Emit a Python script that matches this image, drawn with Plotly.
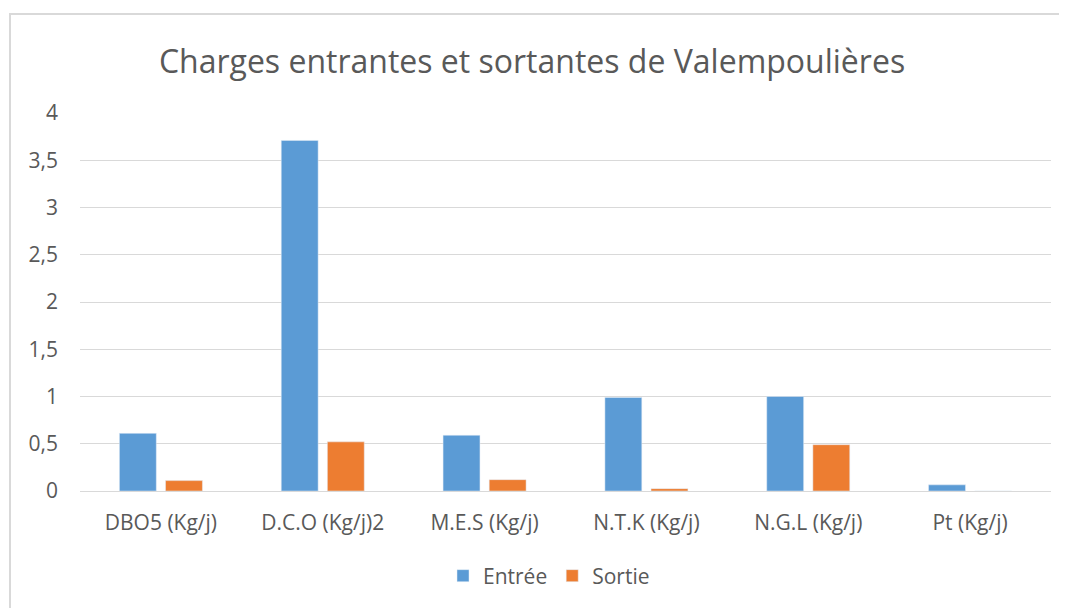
import plotly.graph_objects as go

categories = ["DBO5 (Kg/j)", "D.C.O (Kg/j)2", "M.E.S (Kg/j)", "N.T.K (Kg/j)", "N.G.L (Kg/j)", "Pt (Kg/j)"]
entree = [0.61, 3.71, 0.59, 0.99, 1.00, 0.065]
sortie = [0.11, 0.52, 0.12, 0.025, 0.49, 0.0]
y_ticks = [0, 0.5, 1, 1.5, 2, 2.5, 3, 3.5, 4]

OFF = 8  # page body margin
W, H = 1067 - OFF, 608 - OFF
L, R, T, B = 80 - OFF, 1067 - 1051, 113 - OFF, 608 - 491
pw, ph = W - L - R, H - T - B

def px(x):
    return (x - OFF - L) / pw

def py(y):
    return (H - B - (y - OFF)) / ph

font = "Open Sans"
gray = "#595959"

fig = go.Figure()
fig.add_trace(go.Bar(name="Entrée", x=categories, y=entree, marker=dict(color="#5B9BD5")))
fig.add_trace(go.Bar(name="Sortie", x=categories, y=sortie, marker=dict(color="#ED7D31")))

fig.update_layout(
    width=W, height=H,
    margin=dict(l=L, r=R, t=T, b=B),
    paper_bgcolor="white", plot_bgcolor="white",
    separators=", ",
    barmode="group", bargap=0.43, bargroupgap=0.2,
    font=dict(family=font, color=gray, size=21),
    title=dict(text="Charges entrantes et sortantes de Valempoulières",
               x=(532 - OFF) / W, xref="container", xanchor="center",
               y=1 - (62 - OFF) / H, yref="container", yanchor="middle",
               font=dict(size=32, color=gray, family=font)),
    legend=dict(orientation="h", x=px(549), xanchor="center", y=py(576), yanchor="middle",
                font=dict(size=21, color=gray), itemwidth=30, traceorder="normal"),
    xaxis=dict(showgrid=False, showline=True, linecolor="#D9D9D9", linewidth=1,
               ticks="", ticklabelstandoff=13, tickfont=dict(size=21, color=gray)),
    yaxis=dict(range=[0, 4], tickvals=y_ticks, showgrid=True, gridcolor="#D9D9D9", gridwidth=1,
               zeroline=False, showline=False, ticks="", ticklabelstandoff=21,
               tickfont=dict(size=21, color=gray)),
    shapes=[dict(type="rect", xref="paper", yref="paper",
                 x0=px(10), y0=py(640), x1=px(1100), y1=py(14),
                 line=dict(color="#D9D9D9", width=2), layer="below")],
)

fig.write_html("out.html")
